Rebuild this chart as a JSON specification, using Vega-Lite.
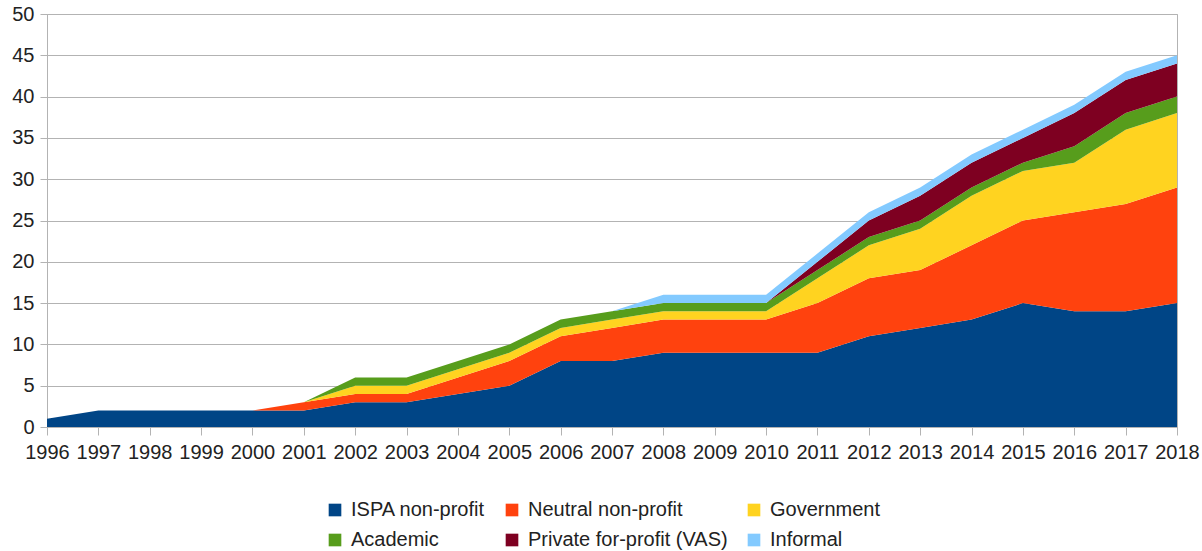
{
  "$schema": "https://vega.github.io/schema/vega-lite/v6.json",
  "width": 1130,
  "height": 413,
  "autosize": {"type": "none"},
  "padding": {"left": 47, "top": 14, "right": 25, "bottom": 124},
  "background": "white",
  "config": {
    "font": "Liberation Sans",
    "view": {"stroke": "#b3b3b3", "strokeWidth": 1},
    "axis": {"labelFont": "Liberation Sans", "labelFontSize": 20, "labelColor": "#222222", "tickColor": "#b3b3b3", "domainColor": "#b3b3b3", "gridColor": "#b3b3b3", "gridWidth": 1}
  },
  "datasets": {
    "categories": [
      {"type": "ISPA non-profit", "rank": 1},
      {"type": "Neutral non-profit", "rank": 2},
      {"type": "Government", "rank": 3},
      {"type": "Academic", "rank": 4},
      {"type": "Private for-profit (VAS)", "rank": 5},
      {"type": "Informal", "rank": 6}
    ]
  },
  "data": {"values": [
    {"year":1996,"type":"ISPA non-profit","count":1},{"year":1997,"type":"ISPA non-profit","count":2},{"year":1998,"type":"ISPA non-profit","count":2},{"year":1999,"type":"ISPA non-profit","count":2},{"year":2000,"type":"ISPA non-profit","count":2},{"year":2001,"type":"ISPA non-profit","count":2},{"year":2002,"type":"ISPA non-profit","count":3},{"year":2003,"type":"ISPA non-profit","count":3},{"year":2004,"type":"ISPA non-profit","count":4},{"year":2005,"type":"ISPA non-profit","count":5},{"year":2006,"type":"ISPA non-profit","count":8},{"year":2007,"type":"ISPA non-profit","count":8},{"year":2008,"type":"ISPA non-profit","count":9},{"year":2009,"type":"ISPA non-profit","count":9},{"year":2010,"type":"ISPA non-profit","count":9},{"year":2011,"type":"ISPA non-profit","count":9},{"year":2012,"type":"ISPA non-profit","count":11},{"year":2013,"type":"ISPA non-profit","count":12},{"year":2014,"type":"ISPA non-profit","count":13},{"year":2015,"type":"ISPA non-profit","count":15},{"year":2016,"type":"ISPA non-profit","count":14},{"year":2017,"type":"ISPA non-profit","count":14},{"year":2018,"type":"ISPA non-profit","count":15},
    {"year":1996,"type":"Neutral non-profit","count":0},{"year":1997,"type":"Neutral non-profit","count":0},{"year":1998,"type":"Neutral non-profit","count":0},{"year":1999,"type":"Neutral non-profit","count":0},{"year":2000,"type":"Neutral non-profit","count":0},{"year":2001,"type":"Neutral non-profit","count":1},{"year":2002,"type":"Neutral non-profit","count":1},{"year":2003,"type":"Neutral non-profit","count":1},{"year":2004,"type":"Neutral non-profit","count":2},{"year":2005,"type":"Neutral non-profit","count":3},{"year":2006,"type":"Neutral non-profit","count":3},{"year":2007,"type":"Neutral non-profit","count":4},{"year":2008,"type":"Neutral non-profit","count":4},{"year":2009,"type":"Neutral non-profit","count":4},{"year":2010,"type":"Neutral non-profit","count":4},{"year":2011,"type":"Neutral non-profit","count":6},{"year":2012,"type":"Neutral non-profit","count":7},{"year":2013,"type":"Neutral non-profit","count":7},{"year":2014,"type":"Neutral non-profit","count":9},{"year":2015,"type":"Neutral non-profit","count":10},{"year":2016,"type":"Neutral non-profit","count":12},{"year":2017,"type":"Neutral non-profit","count":13},{"year":2018,"type":"Neutral non-profit","count":14},
    {"year":1996,"type":"Government","count":0},{"year":1997,"type":"Government","count":0},{"year":1998,"type":"Government","count":0},{"year":1999,"type":"Government","count":0},{"year":2000,"type":"Government","count":0},{"year":2001,"type":"Government","count":0},{"year":2002,"type":"Government","count":1},{"year":2003,"type":"Government","count":1},{"year":2004,"type":"Government","count":1},{"year":2005,"type":"Government","count":1},{"year":2006,"type":"Government","count":1},{"year":2007,"type":"Government","count":1},{"year":2008,"type":"Government","count":1},{"year":2009,"type":"Government","count":1},{"year":2010,"type":"Government","count":1},{"year":2011,"type":"Government","count":3},{"year":2012,"type":"Government","count":4},{"year":2013,"type":"Government","count":5},{"year":2014,"type":"Government","count":6},{"year":2015,"type":"Government","count":6},{"year":2016,"type":"Government","count":6},{"year":2017,"type":"Government","count":9},{"year":2018,"type":"Government","count":9},
    {"year":1996,"type":"Academic","count":0},{"year":1997,"type":"Academic","count":0},{"year":1998,"type":"Academic","count":0},{"year":1999,"type":"Academic","count":0},{"year":2000,"type":"Academic","count":0},{"year":2001,"type":"Academic","count":0},{"year":2002,"type":"Academic","count":1},{"year":2003,"type":"Academic","count":1},{"year":2004,"type":"Academic","count":1},{"year":2005,"type":"Academic","count":1},{"year":2006,"type":"Academic","count":1},{"year":2007,"type":"Academic","count":1},{"year":2008,"type":"Academic","count":1},{"year":2009,"type":"Academic","count":1},{"year":2010,"type":"Academic","count":1},{"year":2011,"type":"Academic","count":1},{"year":2012,"type":"Academic","count":1},{"year":2013,"type":"Academic","count":1},{"year":2014,"type":"Academic","count":1},{"year":2015,"type":"Academic","count":1},{"year":2016,"type":"Academic","count":2},{"year":2017,"type":"Academic","count":2},{"year":2018,"type":"Academic","count":2},
    {"year":1996,"type":"Private for-profit (VAS)","count":0},{"year":1997,"type":"Private for-profit (VAS)","count":0},{"year":1998,"type":"Private for-profit (VAS)","count":0},{"year":1999,"type":"Private for-profit (VAS)","count":0},{"year":2000,"type":"Private for-profit (VAS)","count":0},{"year":2001,"type":"Private for-profit (VAS)","count":0},{"year":2002,"type":"Private for-profit (VAS)","count":0},{"year":2003,"type":"Private for-profit (VAS)","count":0},{"year":2004,"type":"Private for-profit (VAS)","count":0},{"year":2005,"type":"Private for-profit (VAS)","count":0},{"year":2006,"type":"Private for-profit (VAS)","count":0},{"year":2007,"type":"Private for-profit (VAS)","count":0},{"year":2008,"type":"Private for-profit (VAS)","count":0},{"year":2009,"type":"Private for-profit (VAS)","count":0},{"year":2010,"type":"Private for-profit (VAS)","count":0},{"year":2011,"type":"Private for-profit (VAS)","count":1},{"year":2012,"type":"Private for-profit (VAS)","count":2},{"year":2013,"type":"Private for-profit (VAS)","count":3},{"year":2014,"type":"Private for-profit (VAS)","count":3},{"year":2015,"type":"Private for-profit (VAS)","count":3},{"year":2016,"type":"Private for-profit (VAS)","count":4},{"year":2017,"type":"Private for-profit (VAS)","count":4},{"year":2018,"type":"Private for-profit (VAS)","count":4},
    {"year":1996,"type":"Informal","count":0},{"year":1997,"type":"Informal","count":0},{"year":1998,"type":"Informal","count":0},{"year":1999,"type":"Informal","count":0},{"year":2000,"type":"Informal","count":0},{"year":2001,"type":"Informal","count":0},{"year":2002,"type":"Informal","count":0},{"year":2003,"type":"Informal","count":0},{"year":2004,"type":"Informal","count":0},{"year":2005,"type":"Informal","count":0},{"year":2006,"type":"Informal","count":0},{"year":2007,"type":"Informal","count":0},{"year":2008,"type":"Informal","count":1},{"year":2009,"type":"Informal","count":1},{"year":2010,"type":"Informal","count":1},{"year":2011,"type":"Informal","count":1},{"year":2012,"type":"Informal","count":1},{"year":2013,"type":"Informal","count":1},{"year":2014,"type":"Informal","count":1},{"year":2015,"type":"Informal","count":1},{"year":2016,"type":"Informal","count":1},{"year":2017,"type":"Informal","count":1},{"year":2018,"type":"Informal","count":1}
  ]},
  "transform": [
    {"lookup": "type", "from": {"data": {"name": "categories"}, "key": "type", "fields": ["rank"]}}
  ],
  "mark": {"type": "area", "interpolate": "linear"},
  "encoding": {
    "x": {
      "field": "year", "type": "quantitative",
      "scale": {"domain": [1996, 2018], "nice": false, "zero": false},
      "axis": {"title": null, "grid": false, "values": [1996,1997,1998,1999,2000,2001,2002,2003,2004,2005,2006,2007,2008,2009,2010,2011,2012,2013,2014,2015,2016,2017,2018], "format": "d", "labelOverlap": false, "labelFlush": false, "tickSize": 8, "labelPadding": 7}
    },
    "y": {
      "field": "count", "type": "quantitative", "stack": "zero",
      "scale": {"domain": [0, 50], "nice": false},
      "axis": {"title": null, "grid": true, "values": [0,5,10,15,20,25,30,35,40,45,50], "tickSize": 7, "labelPadding": 6}
    },
    "order": {"field": "rank", "type": "quantitative", "sort": "ascending"},
    "color": {
      "field": "type", "type": "nominal",
      "sort": ["ISPA non-profit", "Neutral non-profit", "Government", "Academic", "Private for-profit (VAS)", "Informal"],
      "scale": {
        "domain": ["ISPA non-profit", "Neutral non-profit", "Government", "Academic", "Private for-profit (VAS)", "Informal"],
        "range": ["#004586", "#ff420e", "#ffd320", "#579d1c", "#7e0021", "#83caff"]
      },
      "legend": {"title": null, "orient": "none", "legendX": 278, "legendY": 486, "columns": 3, "direction": "horizontal", "symbolType": "square", "symbolSize": 160, "symbolStrokeWidth": 0, "labelFont": "Liberation Sans", "labelFontSize": 20, "labelColor": "#222222", "labelLimit": 400, "labelOffset": 6, "rowPadding": 10, "columnPadding": 16, "padding": 0}
    }
  }
}
